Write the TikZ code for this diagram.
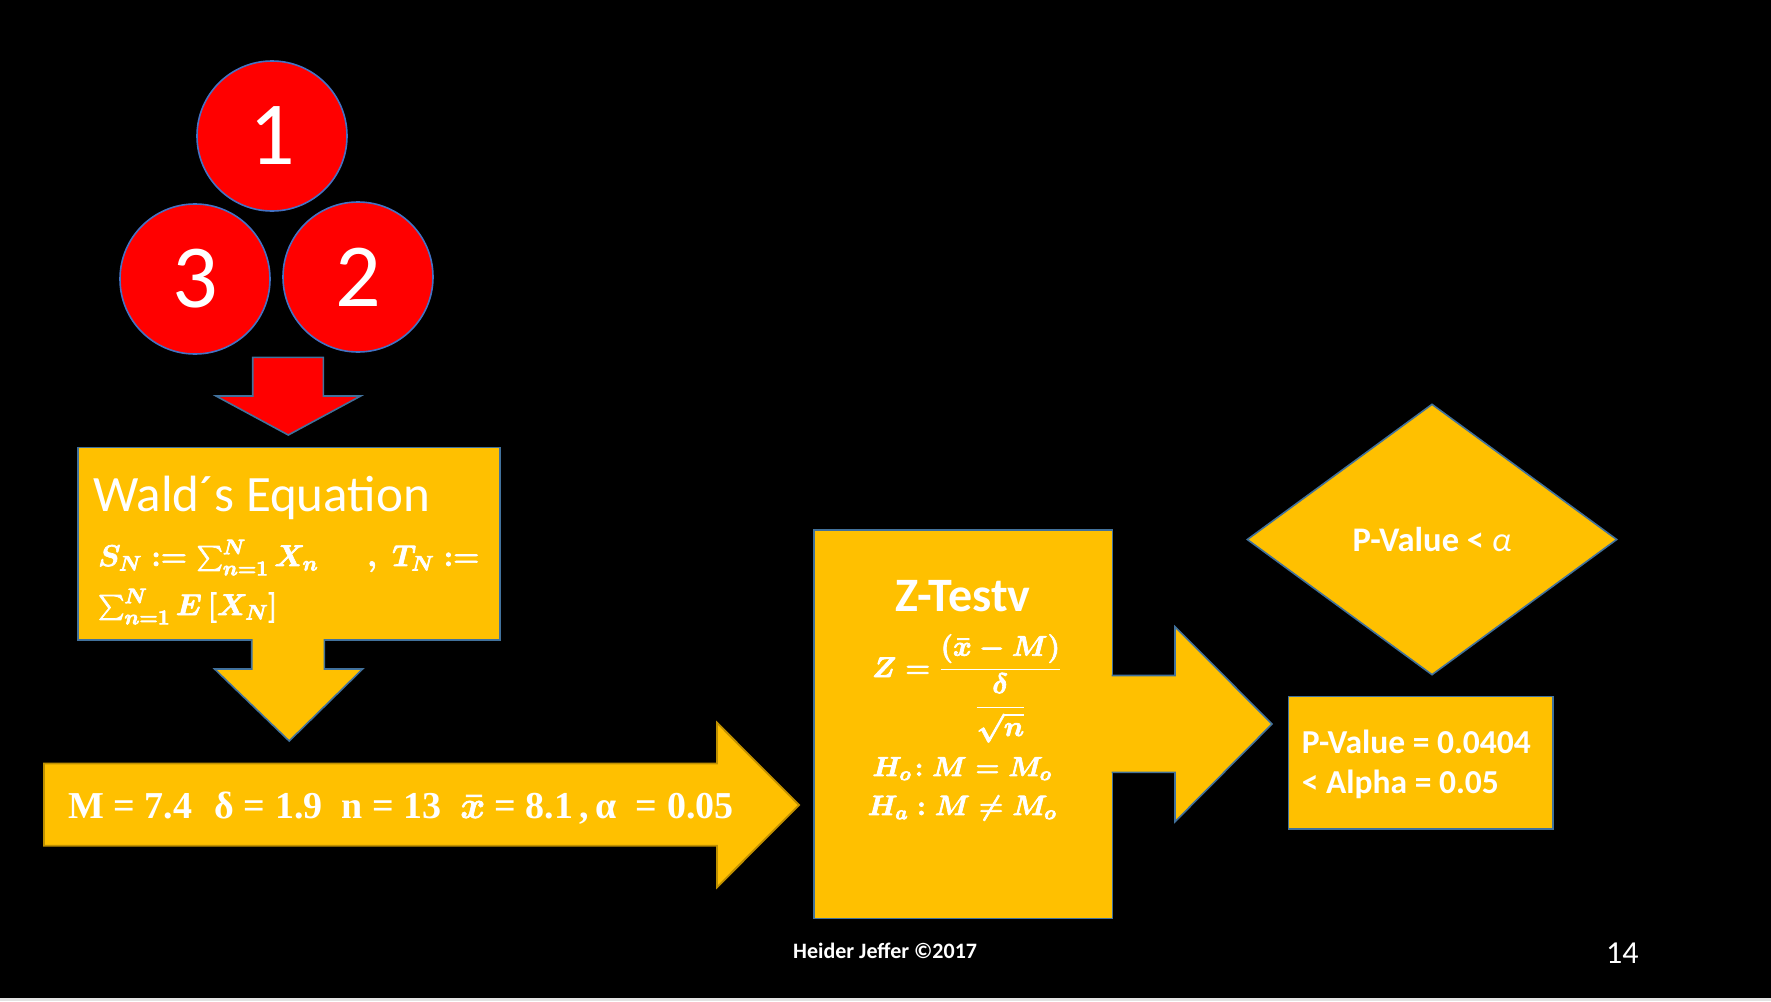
\RequirePackage{fix-cm}
\documentclass[tikz,border=0pt]{standalone}
\usepackage{amsmath}
\usepackage[no-math]{fontspec}
\setmainfont{Carlito}
\newfontfamily\serifbold{Liberation Serif}
\usetikzlibrary{shapes.geometric}

\definecolor{gold}{HTML}{FFC000}
\definecolor{goldedge}{HTML}{BF9000}
\definecolor{edgeblue}{HTML}{41719C}
\definecolor{circblue}{HTML}{4472C4}
\definecolor{discred}{HTML}{FF0000}

\newcommand{\fsz}[1]{\fontsize{#1}{#1}\selectfont}
\newcommand{\defeq}{\mathrel{:=}}
% heavier math: bold version plus a thin outline stroke, kept in its own group
\newcommand{\bmath}[1]{{\special{pdf:literal direct 2 Tr 0.7 w}\boldmath$#1$\special{pdf:literal direct 0 Tr}}}

\begin{document}
\begin{tikzpicture}[x=1pt,y=-1pt,
  blockbox/.style={rectangle, fill=gold, draw=edgeblue, line width=1.6pt, inner sep=0pt, anchor=north west},
  circnode/.style={circle, minimum size=150pt, inner sep=0pt, fill=discred, draw=circblue, line width=1.6pt, text=white, font=\fsz{90}},
  wtext/.style={inner sep=0pt, text=white},
  yfill/.style={fill=gold},
  yedge/.style={draw=edgeblue, line width=1.6pt, line join=miter},
]
% page
\useasboundingbox (0,0) rectangle (1771,1001);
\fill[black] (0,0) rectangle (1771,1001);
\fill[gray!22] (0,998) rectangle (1771,1001);

% three numbered discs
\node[circnode] (c1) at (272,136) {1};
\node[circnode] (c3) at (195,279) {3};
\node[circnode] (c2) at (358,277) {2};

% red block arrow pointing down
\filldraw[fill=discred, draw=edgeblue, line width=1.6pt]
  (252.7,357.3) -- (323.3,357.3) -- (323.3,396) -- (360.7,396)
  -- (288.3,435) -- (216,396) -- (252.7,396) -- cycle;

% Wald's equation box
\node[blockbox, minimum width=422pt, minimum height=192.3pt] (wald) at (77.3,446.7) {};
\node[wtext, anchor=base west, font=\fsz{51}] (waldtitle) at (93,511) {Wald´s Equation};
\node[wtext, anchor=base west, font=\fsz{30}] (waldone) at (98,566) {\bmath{S_N \defeq \sum_{n=1}^{N} X_n \quad\;\; ,\; T_N \defeq}};
\node[wtext, anchor=base west, font=\fsz{30}] (waldtwo) at (98,615) {\bmath{\sum_{n=1}^{N} E\,[X_N]}};

% yellow block arrow below the Wald box
\fill[yfill] (251.7,637) -- (324.3,637) -- (324.3,669) -- (362.6,669)
  -- (289.2,741) -- (214.6,669) -- (251.7,669) -- cycle;
\draw[yedge] (251.7,639) -- (251.7,669) -- (214.6,669) -- (289.2,741)
  -- (362.6,669) -- (324.3,669) -- (324.3,639);

% parameter arrow
\filldraw[fill=gold, draw=goldedge, line width=1.8pt, line join=miter]
  (44,763.5) -- (717,763.5) -- (717,722.7) -- (799,805)
  -- (717,887.3) -- (717,845.7) -- (44,845.7) -- cycle;
\node[wtext, anchor=base, font=\serifbold\bfseries\fsz{38}] (params) at (401,818) {M = 7.4\,\,~δ = 1.9~~n = 13~~\bmath{\bar{x}} = 8.1\,,\,α~~= 0.05};

% Z-test box
\node[blockbox, minimum width=298.4pt, minimum height=388.7pt] (ztest) at (813.3,529) {};
\node[wtext, anchor=base, font=\bfseries\fsz{48}] (ztitle) at (963,611) {Z-Testv};
\node[wtext, anchor=base west, font=\fsz{28.5}] (zformula) at (872,677) {\bmath{Z = \dfrac{(\bar{x} - M)}{\dfrac{\delta}{\sqrt{n}}}}};
\node[wtext, anchor=base, font=\fsz{27.5}] (hnull) at (962,776) {\bmath{H_o\!: M = M_o}};
\node[wtext, anchor=base, font=\fsz{28}] (halt) at (962,815) {\bmath{H_a : M \neq M_o}};

% block arrow leaving the Z-test box
\fill[yfill] (1109,675.5) -- (1175,675.5) -- (1175,626.7) -- (1272,724)
  -- (1175,821.7) -- (1175,772.3) -- (1109,772.3) -- cycle;
\draw[yedge] (1111.7,675.5) -- (1175,675.5) -- (1175,626.7) -- (1272,724)
  -- (1175,821.7) -- (1175,772.3) -- (1111.7,772.3);

% decision diamond
\node[diamond, shape aspect=1.365, minimum width=370pt, minimum height=271pt, inner sep=0pt,
  fill=gold, draw=edgeblue, line width=1.6pt, text=white, font=\bfseries\fsz{34.5}]
  (decide) at (1432,539.5) {P-Value < {\mdseries\itshape α}};

% result box
\node[blockbox, minimum width=264.8pt, minimum height=132.6pt] (pbox) at (1287.5,695.7) {};
\node[wtext, anchor=base west, font=\bfseries\fsz{33.5}] (pone) at (1301.7,753) {P-Value = 0.0404};
\node[wtext, anchor=base west, font=\bfseries\fsz{33.5}] (ptwo) at (1301.7,793) {< Alpha = 0.05};

% footer
\node[wtext, anchor=base west, font=\bfseries\fsz{22}] (author) at (793,958) {Heider Jeffer ©2017};
\node[wtext, anchor=base west, font=\fsz{32}] (pageno) at (1606,963) {14};
\end{tikzpicture}
\end{document}
